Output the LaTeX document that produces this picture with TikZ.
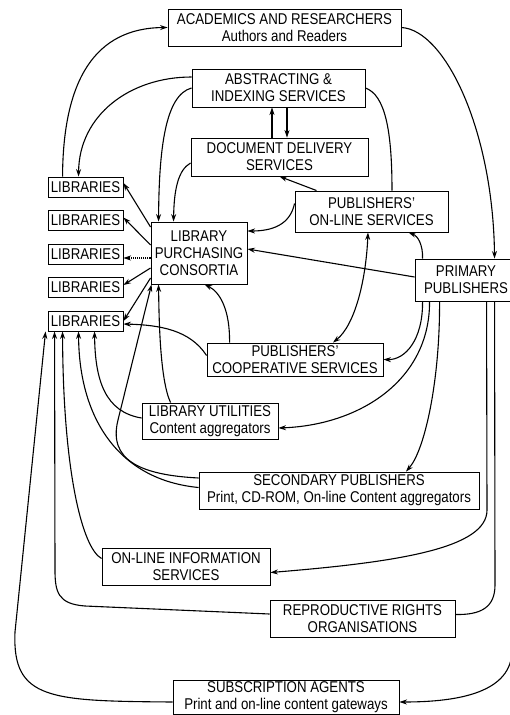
\documentclass[tikz,border=0pt]{standalone}
\usepackage{fontspec}
\setmainfont{Liberation Sans}[FakeStretch=0.85]
\usepackage{tikz}
\usetikzlibrary{arrows.meta}
\tikzset{
>={Stealth[length=7.5pt,width=5pt]},
node distance=33.5pt,
main node/.style={draw,line width=0.9pt,align=center,inner sep=1pt},
taglia/.style 2 args={minimum width=#1pt,minimum height=#2pt},
freccia/.style={->,line width=1.1pt},
linea/.style={line width=1.1pt}}

\begin{document}
\begin{tikzpicture}[x=1pt,y=-1pt,font=\fontsize{15.6}{17}\selectfont]

\useasboundingbox (0,0) rectangle (509,715);

\node[main node,taglia={233}{37}] (ac) at (284.5,27.5) {ACADEMICS AND RESEARCHERS\\Authors and Readers};
\node[main node,taglia={173}{38}] (ai) at (278.5,88) {ABSTRACTING \&\\INDEXING SERVICES};
\node[main node,taglia={177}{38}] (dd) at (279.5,157) {DOCUMENT DELIVERY\\SERVICES};
\node[main node,taglia={153}{41}] (pos) at (371.5,211.5) {PUBLISHERS'\\ON-LINE SERVICES};
\node[main node,taglia={96}{62}] (lpc) at (199,253) {LIBRARY\\PURCHASING\\CONSORTIA};
\node[main node,taglia={102}{42}] (pp) at (466,280) {PRIMARY\\PUBLISHERS};

\node[main node,taglia={75}{20}] (lib1) at (85.5,187) {LIBRARIES};
\node (lib2) [main node,taglia={75}{20},below of=lib1] {LIBRARIES};
\node (lib3) [main node,taglia={75}{20},below of=lib2] {LIBRARIES};
\node (lib4) [main node,taglia={75}{20},below of=lib3] {LIBRARIES};
\node (lib5) [main node,taglia={75}{20},below of=lib4] {LIBRARIES};

\node[main node,taglia={176}{33}] (pcs) at (295,359.5) {PUBLISHERS'\\COOPERATIVE SERVICES};
\node[main node,taglia={136}{36}] (lu) at (210,421) {LIBRARY UTILITIES\\Content aggregators};
\node[main node,taglia={280}{37}] (sp) at (339,490.5) {SECONDARY PUBLISHERS\\Print, CD-ROM, On-line Content aggregators};
\node[main node,taglia={168}{37}] (ois) at (186,566.5) {ON-LINE INFORMATION\\SERVICES};
\node[main node,taglia={185}{37}] (rro) at (362.5,618.5) {REPRODUCTIVE RIGHTS\\ORGANISATIONS};
\node[main node,taglia={226}{32}] (sa) at (286,697.5) {SUBSCRIPTION AGENTS\\Print and on-line content gateways};

% top
\draw[freccia] ([xshift=15pt]lib1.north west) .. controls (63,80) and (95,28) .. (ac.west);
\draw[freccia] (ac.east) .. controls (445,30) and (493,130) .. ([xshift=80pt]pp.north west);
\draw[freccia] ([yshift=11pt]ai.west) .. controls (130,77) and (79,115) .. ([xshift=31pt]lib1.north west);
\draw[freccia] (ai.west) .. controls (165,95) and (159,150) .. ([xshift=8pt]lpc.north west);
\draw[freccia] ([xshift=-7.5pt]dd.north) -- ([xshift=-6.5pt]ai.south);
\draw[freccia] ([xshift=8.5pt]ai.south) -- ([xshift=7.5pt]dd.north);
\draw[linea] (ai.east) .. controls (385,95) and (392,130) .. ([xshift=20.5pt]pos.north);
\draw[freccia] ([yshift=-6pt]dd.west) .. controls (178,170) and (174,190) .. ([xshift=23pt]lpc.north west);
\draw[freccia] ([xshift=22pt]pos.north west) -- (dd.south);
\draw[freccia] ([yshift=8pt]pos.west) .. controls (290,225) and (272,231) .. ([yshift=22pt]lpc.east);
\draw[freccia] ([yshift=3pt]pp.west) -- ([yshift=4pt]lpc.east);
\draw[<->,linea] ([xshift=-3.5pt]pos.south) .. controls (366,280) and (355,325) .. ([xshift=38pt]pcs.north);
\draw[freccia] ([xshift=8pt]pp.north west) .. controls (423,245) and (418,236) .. ([xshift=-40pt]pos.south east);

% primary publishers downwards
\draw[freccia] ([xshift=8pt]pp.south west) .. controls (423,340) and (405,360) .. (pcs.east);
\draw[freccia] ([xshift=15pt]pp.south west) .. controls (430,380) and (360,425) .. ([yshift=-7pt]lu.east);
\draw[freccia] ([xshift=25pt]pp.south west) .. controls (440,380) and (425,450) .. ([xshift=67pt]sp.north);
\draw[freccia] ([xshift=72pt]pp.south west) -- (487,510) .. controls (487,548) and (400,562) .. ([yshift=-6pt]ois.east);
\draw[linea] ([xshift=80pt]pp.south west) -- (495,585) .. controls (495,608) and (480,615) .. ([yshift=4pt]rro.east);
\draw[freccia] ([xshift=97pt]pp.south west) -- (512,650) .. controls (512,692) and (460,702) .. ([yshift=-4.5pt]sa.east);

% into the libraries
\draw[freccia] ([yshift=-4.5pt]sa.west) .. controls (50,701) and (12,700) .. (15,632) -- ([xshift=-2pt]lib5.south west);
\draw[freccia] ([yshift=4.5pt]rro.west) -- (85,606) .. controls (58,604) and (55,592) .. (55,570) -- ([xshift=7pt]lib5.south west);
\draw[freccia] ([yshift=8pt]ois.west) .. controls (82,548) and (63,470) .. ([xshift=15pt]lib5.south west);
\draw[freccia] ([yshift=3pt]sp.west) .. controls (120,480) and (79,420) .. ([xshift=31pt]lib5.south west);
\draw[freccia] ([yshift=12.5pt]sp.west) .. controls (140,475) and (108,460) .. (118,420) -- ([xshift=1pt]lpc.south west);
\draw[freccia] ([yshift=3pt]lu.west) .. controls (105,412) and (95,380) .. ([xshift=47pt]lib5.south west);
\draw[freccia] ([xshift=29pt]lu.north west) .. controls (160,380) and (159,320) .. ([xshift=8pt]lpc.south west);
\draw[freccia] ([yshift=4pt]pcs.west) .. controls (190,330) and (160,325) .. ([yshift=-3pt]lib5.east);
\draw[freccia] ([xshift=23pt]pcs.north west) .. controls (230,310) and (220,292) .. ([xshift=54pt]lpc.south west);

\draw[freccia] ([yshift=26pt]lpc.west) -- ([yshift=4pt]lib1.east);
\draw[freccia] ([yshift=8pt]lpc.west) -- ([yshift=3pt]lib2.east);
\draw[freccia,densely dotted] ([yshift=-5pt]lpc.west) -- ([yshift=-4pt]lib3.east);
\draw[freccia] ([yshift=-15pt]lpc.west) -- ([yshift=2.5pt]lib4.east);
\draw[freccia] ([yshift=-25pt]lpc.west) -- (lib5.east);

\end{tikzpicture}
\end{document}
